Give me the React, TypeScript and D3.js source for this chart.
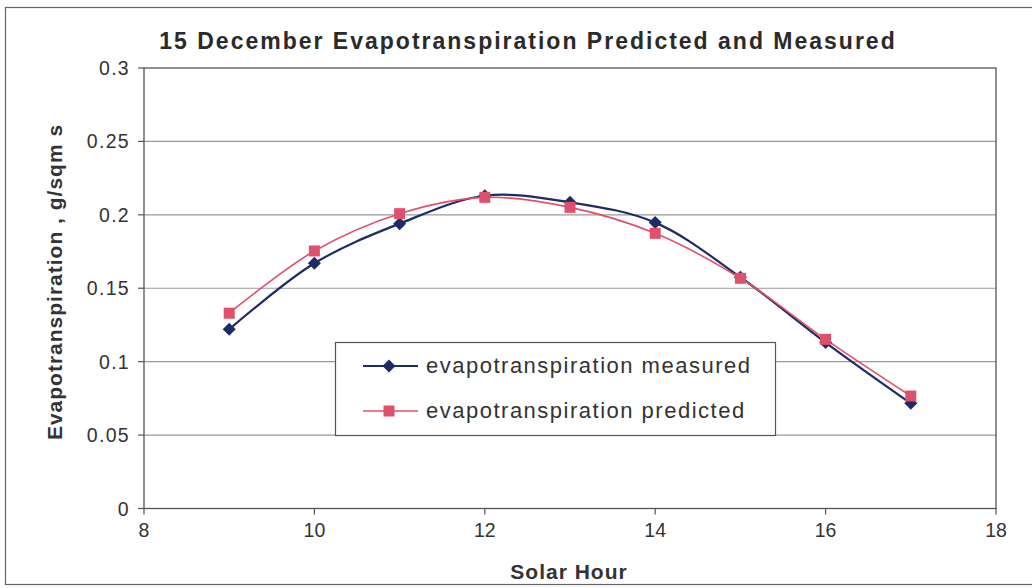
import React from "react";
import * as d3 from "d3";

const hours = [9, 10, 11, 12, 13, 14, 15, 16, 17];
const measured = [0.122, 0.167, 0.194, 0.213, 0.2085, 0.1947, 0.1575, 0.113, 0.0716];
const predicted = [0.133, 0.1754, 0.2008, 0.2119, 0.2051, 0.1874, 0.1568, 0.1152, 0.0766];
const xTicks = [8, 10, 12, 14, 16, 18];
const yTicks = [0, 0.05, 0.1, 0.15, 0.2, 0.25, 0.3];
const seriesNames = ["evapotranspiration measured", "evapotranspiration predicted"];

const NAVY = "#1f2b66";
const PINK = "#e0506c";

export default function App() {
  const W = 1032, H = 588;
  const left = 144, right = 996, top = 68, bottom = 508.5;
  const x = d3.scaleLinear().domain([8, 18]).range([left, right]);
  const y = d3.scaleLinear().domain([0, 0.3]).range([bottom, top]);
  const line = d3
    .line<number>()
    .x((_, i) => x(hours[i]))
    .y((d) => y(d))
    .curve(d3.curveCatmullRom.alpha(0.5));
  const font = "Arial, 'Liberation Sans', sans-serif";
  const diamond = (cx: number, cy: number, r: number) =>
    `M${cx},${cy - r}L${cx + r},${cy}L${cx},${cy + r}L${cx - r},${cy}Z`;

  return (
    <svg width={W} height={H} style={{ position: "absolute", left: 0, top: 0, background: "#fff" }} fontFamily={font}>
      <rect x={0} y={0} width={W} height={H} fill="#fdfdfd" />
      <rect x={5.5} y={7.5} width={W + 10} height={577} fill="#fff" stroke="#666" strokeWidth={1.2} />
      <text x={528} y={49} textAnchor="middle" fontSize={23} fontWeight="bold" fill="#2a2a2a" letterSpacing={2}>
        15 December Evapotranspiration Predicted and Measured
      </text>
      {yTicks.map((t) => (
        <g key={t}>
          {t > 0 && t < 0.3 && <line x1={left} x2={right} y1={y(t)} y2={y(t)} stroke="#9a9a9a" strokeWidth={1.2} />}
          <line x1={left - 6} x2={left} y1={y(t)} y2={y(t)} stroke="#555" strokeWidth={1.2} />
          <text x={130} y={y(t) + 7} textAnchor="end" fontSize={19.5} fill="#333" letterSpacing={1.3}>
            {String(t)}
          </text>
        </g>
      ))}
      {xTicks.map((t) => (
        <g key={t}>
          <line x1={x(t)} x2={x(t)} y1={bottom} y2={bottom + 6} stroke="#555" strokeWidth={1.2} />
          <text x={x(t)} y={537} textAnchor="middle" fontSize={19.5} fill="#333">
            {t}
          </text>
        </g>
      ))}
      <rect x={left} y={top} width={right - left} height={bottom - top} fill="none" stroke="#555" strokeWidth={1.3} />
      <text x={569} y={579} textAnchor="middle" fontSize={21} fontWeight="bold" fill="#333" letterSpacing={1}>
        Solar Hour
      </text>
      <text transform={`translate(62,282) rotate(-90)`} textAnchor="middle" fontSize={21} fontWeight="bold" fill="#333" letterSpacing={1}>
        Evapotranspiration , g/sqm s
      </text>

      <path d={line(measured) || ""} fill="none" stroke={NAVY} strokeWidth={2.2} />
      <path d={line(predicted) || ""} fill="none" stroke={PINK} strokeWidth={1.6} />
      {measured.map((v, i) => (
        <path key={"m" + i} d={diamond(x(hours[i]), y(v), 6.5)} fill={NAVY} />
      ))}
      {predicted.map((v, i) => (
        <rect key={"p" + i} x={x(hours[i]) - 5.5} y={y(v) - 5.5} width={11} height={11} fill={PINK} />
      ))}

      <rect x={335.5} y={342.5} width={440} height={93} fill="#fff" stroke="#555" strokeWidth={1.2} />
      <line x1={363} x2={418} y1={366} y2={366} stroke={NAVY} strokeWidth={2} />
      <path d={diamond(389, 366, 6.5)} fill={NAVY} />
      <text x={426} y={373} fontSize={22} fill="#333" letterSpacing={1.5}>{seriesNames[0]}</text>
      <line x1={363} x2={418} y1={411} y2={411} stroke={PINK} strokeWidth={1.6} />
      <rect x={383.5} y={405.5} width={11} height={11} fill={PINK} />
      <text x={426} y={418} fontSize={22} fill="#333" letterSpacing={1.5}>{seriesNames[1]}</text>
    </svg>
  );
}
